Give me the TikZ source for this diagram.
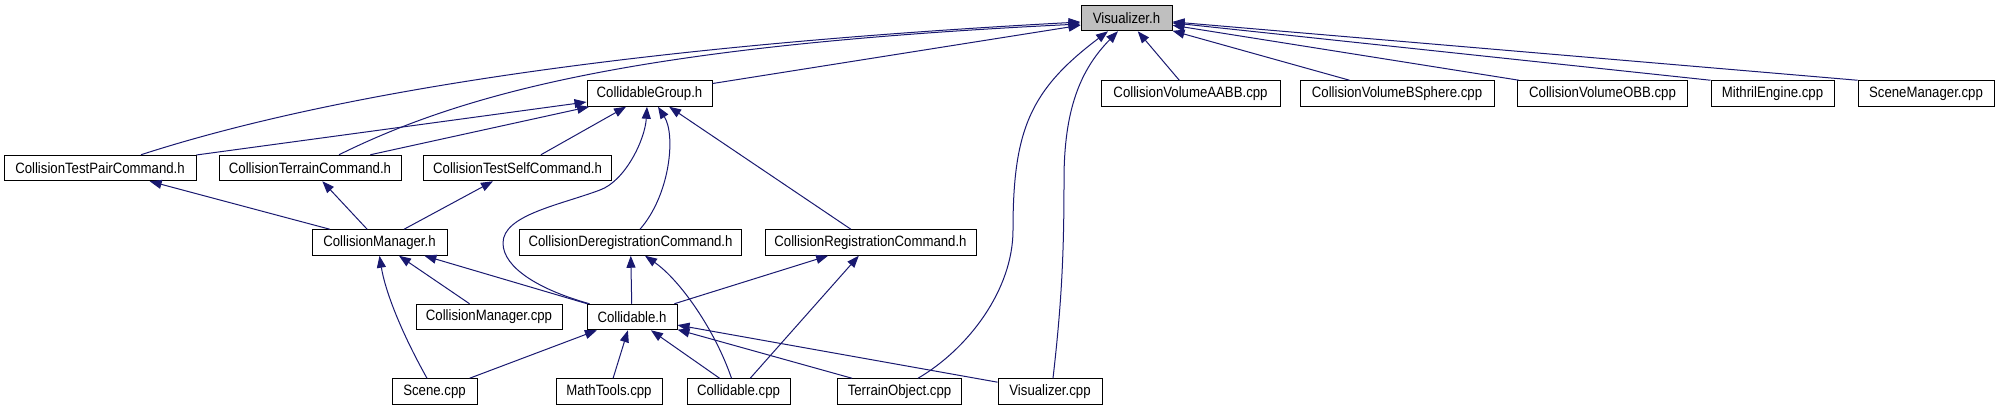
\documentclass[tikz,border=0pt]{standalone}
\usepackage{fontspec}
\setmainfont{Liberation Sans}[FakeStretch=0.88]
\usepackage{tikz}
\usetikzlibrary{arrows.meta}

\definecolor{depblue}{HTML}{191970}
\definecolor{focusgray}{HTML}{BFBFBF}

\begin{document}
\begin{tikzpicture}[
  x=1pt, y=-1pt,
  file/.style  = {rectangle, draw=black, line width=1pt, fill=white,
                  minimum height=25.5pt, inner sep=0pt,
                  font=\fontsize{15}{18}\selectfont},
  focus/.style = {file, fill=focusgray},
  dep/.style   = {-{Triangle[length=12pt, width=9pt]}, depblue, line width=1pt}
]
\useasboundingbox (0,0) rectangle (1997,411);

% ── Row 1: the header itself ─────────────────────────────────────────────────
\node[focus, minimum width=91pt]  (vis)    at (1126.5,18)  {Visualizer.h};

% ── Row 2 ────────────────────────────────────────────────────────────────────
\node[file, minimum width=125pt]  (cg)     at (649.5,93.5)  {CollidableGroup.h};
\node[file, minimum width=179pt]  (aabb)   at (1190.5,93.5) {CollisionVolumeAABB.cpp};
\node[file, minimum width=194pt]  (bsph)   at (1397,93.5)   {CollisionVolumeBSphere.cpp};
\node[file, minimum width=170pt]  (obb)    at (1602.5,93.5) {CollisionVolumeOBB.cpp};
\node[file, minimum width=123pt]  (mith)   at (1772.5,93.5) {MithrilEngine.cpp};
\node[file, minimum width=136pt]  (scnmgr) at (1926,93.5)   {SceneManager.cpp};

% ── Row 3: commands ──────────────────────────────────────────────────────────
\node[file, minimum width=192pt]  (pair)   at (100,168)   {CollisionTestPairCommand.h};
\node[file, minimum width=182pt]  (terr)   at (310,168)   {CollisionTerrainCommand.h};
\node[file, minimum width=188pt]  (self)   at (517.5,168) {CollisionTestSelfCommand.h};

% ── Row 4 ────────────────────────────────────────────────────────────────────
\node[file, minimum width=135pt]  (mgr)    at (379.5,242.5) {CollisionManager.h};
\node[file, minimum width=222pt]  (dereg)  at (630.5,242.5) {CollisionDeregistrationCommand.h};
\node[file, minimum width=211pt]  (reg)    at (870.5,242.5) {CollisionRegistrationCommand.h};

% ── Row 5 ────────────────────────────────────────────────────────────────────
\node[file, minimum width=146pt]  (mgrcpp) at (489,317) {CollisionManager.cpp};
\node[file, minimum width=90pt]   (col)    at (632,317) {Collidable.h};

% ── Row 6: sources ───────────────────────────────────────────────────────────
\node[file, minimum width=85pt]   (scene)  at (434.5,391.5) {Scene.cpp};
\node[file, minimum width=106pt]  (math)   at (609,391.5)   {MathTools.cpp};
\node[file, minimum width=103pt]  (colcpp) at (738.5,391.5) {Collidable.cpp};
\node[file, minimum width=124pt]  (tobj)   at (899.5,391.5) {TerrainObject.cpp};
\node[file, minimum width=104pt]  (viscpp) at (1050,391.5)  {Visualizer.cpp};

% ── Into Visualizer.h ────────────────────────────────────────────────────────
\draw[dep] ([xshift=41pt]pair.north) .. controls (341,90) and (650,45) .. ([yshift=-4pt]vis.west);
\draw[dep] ([xshift=29pt]terr.north) .. controls (470,90) and (650,45) .. ([yshift=-6pt]vis.west);
\draw[dep] (cg) -- (vis);
\draw[dep] (aabb) -- (vis);
\draw[dep] (bsph) -- (vis);
\draw[dep] (obb) -- (vis);
\draw[dep] (mith.north west) -- (vis);
\draw[dep] (scnmgr.north west) -- (vis);
\draw[dep] ([xshift=18.5pt]tobj.north) .. controls (968,349) and (1013,290) .. (1013,230)
           .. controls (1013,130) and (1030,90) .. ([xshift=-18.5pt]vis.south);
\draw[dep] ([xshift=3pt]viscpp.north) .. controls (1062,300) and (1064,250) .. (1064,180)
           .. controls (1064,110) and (1080,70) .. ([xshift=-8.5pt]vis.south);

% ── Into CollidableGroup.h ───────────────────────────────────────────────────
\draw[dep] (pair) -- (cg);
\draw[dep] (terr) -- (cg);
\draw[dep] (self) -- (cg);
\draw[dep] (reg) -- (cg);
\draw[dep] ([xshift=3pt]col.north west) .. controls (540,290) and (503,268) .. (503,243)
           .. controls (503,215) and (560,205) .. (600,190)
           .. controls (625,181) and (645,140) .. ([xshift=-2.5pt]cg.south);
\draw[dep] ([xshift=9.5pt]dereg.north) .. controls (670,195) and (676,135) .. ([xshift=8.5pt]cg.south);

% ── Into the commands ────────────────────────────────────────────────────────
\draw[dep] (mgr) -- (pair);
\draw[dep] (mgr) -- (terr);
\draw[dep] (mgr) -- (self);

% ── Into CollisionManager.h ──────────────────────────────────────────────────
\draw[dep] (col) -- (mgr);
\draw[dep] (mgrcpp) -- (mgr);
\draw[dep] ([xshift=-7.5pt]scene.north) .. controls (400,330) and (385,290) .. (mgr.south);

% ── Into the (de)registration commands ───────────────────────────────────────
\draw[dep] (col) -- (dereg);
\draw[dep] ([xshift=-7pt]colcpp.north) .. controls (715,330) and (680,280) .. ([xshift=14.5pt]dereg.south);
\draw[dep] (col) -- (reg);
\draw[dep] (colcpp) -- (reg);

% ── Into Collidable.h ────────────────────────────────────────────────────────
\draw[dep] (scene) -- (col);
\draw[dep] (math) -- (col);
\draw[dep] (colcpp) -- (col);
\draw[dep] (tobj) -- (col);
\draw[dep] (viscpp) -- (col);
\end{tikzpicture}
\end{document}
